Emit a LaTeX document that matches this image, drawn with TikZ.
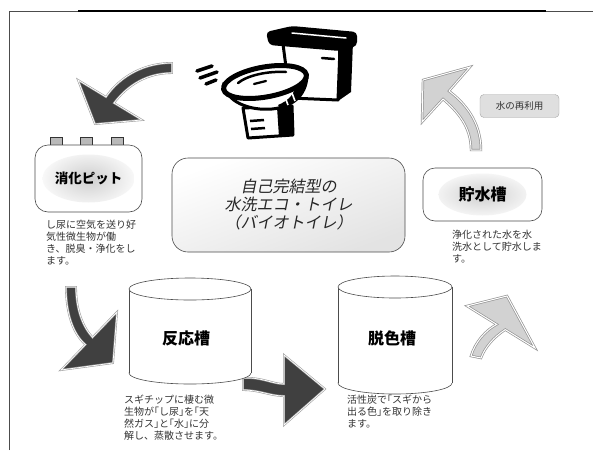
\documentclass[tikz,border=0pt]{standalone}
\usepackage{fontspec}
\setmainfont{Noto Sans CJK JP}
\newfontfamily\slantjp[FakeSlant=0.2]{Noto Sans CJK JP}
\usepackage{tikz}
\usetikzlibrary{positioning}

\definecolor{darkarrow}{HTML}{404040}
\definecolor{lightarrow}{HTML}{D2D2D2}
\definecolor{textgray}{HTML}{333333}

\tikzset{
  darkblock/.style={fill=darkarrow, draw=gray!75, double=white, double distance=0.7pt, line width=0.6pt},
  lightblock/.style={fill=lightarrow, draw=gray!85, double=white, double distance=1pt, line width=0.7pt},
  roundbox/.style={draw=gray!60!black, fill=white, rounded corners=13pt, line width=0.6pt},
  desc/.style={anchor=north west, inner sep=0pt, align=left, text=textgray, font=\fontsize{10}{12}\selectfont},
  tankline/.style={draw=gray!60!black, fill=white, line width=0.6pt},
  tabbox/.style={draw=gray!40!black, fill=gray!55, minimum width=12pt, minimum height=8pt, inner sep=0pt},
  glow/.style={path picture={\shade[inner color=gray!38, outer color=white]
      (path picture bounding box.center) ellipse (#1);}}
}

\begin{document}
\begin{tikzpicture}[x=1pt, y=-1pt]

\fill[white] (0,0) rectangle (593,450);
\useasboundingbox (0,0) rectangle (593,450);

% frame
\draw[gray!60!black, line width=0.7pt] (9,450) -- (9,11) -- (593,11);
\draw[line width=2.6pt] (78,11) -- (546,11);

% toilet: tank and lid
\filldraw[line width=3pt, fill=white, line join=round] (283,44) -- (340,48) -- (338,100) -- (290,98) -- cycle;
\fill (338,46) -- (353,42) -- (351,92) -- (338,101) -- cycle;
\draw[line width=2.5pt, line cap=round] (322,58) -- (334,59);
\fill[rounded corners=4pt] (266,32) -- (292,26) -- (357,32) -- (357,46) -- (340,51) -- (269,45) -- cycle;
\draw[white, line width=1.5pt, line cap=round] (292,33) -- (346,38);
% toilet: pedestal
\filldraw[line width=3pt, fill=white, line join=round] (243,108) -- (292,106) -- (293,135) -- (248,138) -- cycle;
\fill (277,107) -- (292,106) -- (293,135) -- (279,137) -- cycle;
\draw[line width=2.5pt] (250,121) -- (264,120) (251,129) -- (265,128);
% toilet: bowl
\filldraw[line width=3pt, fill=white] (224,84) .. controls (226,102) and (250,111) .. (272,109)
  .. controls (292,107) and (306,96) .. (307,76) -- cycle;
\fill (280,108) .. controls (296,103) and (305,94) .. (307,78) -- (297,82) .. controls (295,94) and (288,101) .. (278,105) -- cycle;
\draw[white, line width=1.6pt] (285,97) -- (288,105) (292,93) -- (295,101);
\draw[line width=5pt, fill=white, rotate around={10:(265,82)}] (265,82) ellipse (42 and 15);
\draw[line width=2.5pt, line cap=round] (238,83) .. controls (248,75) and (268,71) .. (286,72);
\draw[line width=2.2pt, line cap=round] (254,84) -- (266,81);
% speed lines
\draw[line width=3.5pt, line cap=round] (197,71) -- (212,66) (200,78) -- (217,72) (206,84) -- (216,80);

% block arrows
\draw[darkblock] (172,63) .. controls (138,63) and (116,82) .. (106,97) -- (78,80) -- (95,124)
  -- (142,120) -- (114,103) .. controls (124,90) and (142,73) .. (172,73) -- cycle;
\draw[lightblock] (471,150) .. controls (471,127) and (458,112) .. (443,99) -- (422,122) -- (423,80)
  -- (470,67) -- (449,91) .. controls (465,103) and (481,122) .. (481,150) -- cycle;
\draw[darkblock] (66,287) .. controls (66,313) and (73,334) .. (85.5,344.6) -- (61,370) -- (113,363)
  -- (117,312) -- (92.5,337.4) .. controls (83,327) and (76,310) .. (76,287) -- cycle;
\draw[darkblock] (243,378) .. controls (262,377) and (272,384) .. (284,384) -- (284,355) -- (325,389)
  -- (284,425) -- (284,396) .. controls (270,396) and (260,390) .. (243,390) -- cycle;
\draw[lightblock] (471,356) .. controls (475,342) and (486,330) .. (496.7,324.4) -- (467,306) -- (507,296)
  -- (535,348) -- (505.3,329.6) .. controls (494,337) and (485,347) .. (481,358) -- cycle;

% digestion pit
\node[tabbox] (tab1) at (56,141) {};
\node[tabbox] (tab2) at (86,141) {};
\node[tabbox] (tab3) at (117.5,141) {};
\node[roundbox, glow={46pt and 24pt}, minimum width=107pt, minimum height=67pt,
  font=\fontsize{13.5}{16}\selectfont\bfseries] (pit) at (88.5,178.5) {消化ピット};
\node[desc] (pitdesc) at (46,220) {し尿に空気を送り好\\気性微生物が働\\き、脱臭・浄化をし\\ます。};

% title
\node[roundbox, rounded corners=16pt, minimum width=233pt, minimum height=94pt,
  top color=white, bottom color=gray!22, shading angle=20, align=center, text=black!85,
  font=\slantjp\fontsize{16}{18}\selectfont] (title) at (288.5,205)
  {自己完結型の\\水洗エコ・トイレ\\（バイオトイレ）};

% storage tank
\node[roundbox, rounded corners=12pt, glow={44pt and 21pt}, minimum width=119pt, minimum height=53pt,
  font=\fontsize{16}{18}\selectfont\bfseries] (store) at (482.5,194.5) {貯水槽};
\node[desc] (storedesc) at (452,230) {浄化された水を水\\洗水として貯水しま\\す。};
\node[draw=gray!70, fill=gray!25, rounded corners=4pt, minimum width=79pt, minimum height=23pt,
  text=textgray, font=\fontsize{9.5}{11}\selectfont] (reuse) at (519.5,106) {水の再利用};

% reaction tank
\filldraw[tankline] (190,373) ellipse (61 and 11);
\fill[white] (129,289) rectangle (251,373);
\draw[tankline] (129,289) -- (129,373) (251,289) -- (251,373);
\filldraw[tankline] (190,289) ellipse (61 and 11);
\node[font=\fontsize{16}{18}\selectfont\bfseries] (react) at (186,338) {反応槽};
\node[desc] (reactdesc) at (124,395) {スギチップに棲む微\\生物が｢し尿｣を｢天\\然ガス｣と｢水｣に分\\解し、蒸散させます。};

% decolouring tank
\filldraw[tankline] (395,383) ellipse (57 and 11);
\fill[white] (338,287) rectangle (452,383);
\draw[tankline] (338,287) -- (338,383) (452,287) -- (452,383);
\filldraw[tankline] (395,287) ellipse (57 and 11);
\node[font=\fontsize{16}{18}\selectfont\bfseries] (decolor) at (392,338) {脱色槽};
\node[desc] (decolordesc) at (347,395) {活性炭で｢スギから\\出る色｣を取り除き\\ます。};

\end{tikzpicture}
\end{document}
